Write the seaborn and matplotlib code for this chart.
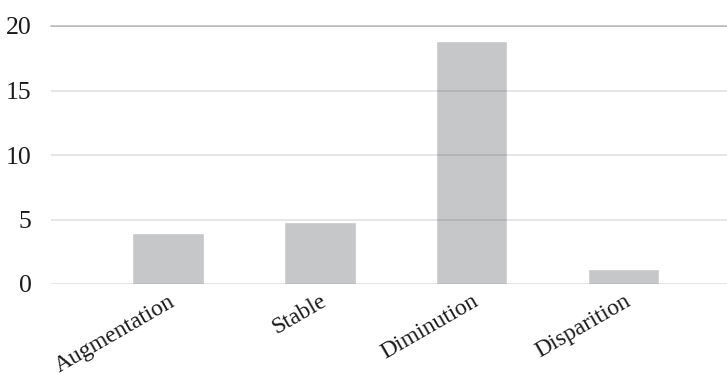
import pandas as pd
import matplotlib
matplotlib.use("Agg")
import matplotlib.pyplot as plt
import seaborn as sns

# données
categories = ["Augmentation", "Stable", "Diminution", "Disparition"]
valeurs = [3.95, 4.8, 18.85, 1.15]

df = pd.DataFrame({"categorie": categories, "valeur": valeurs})

sns.set_theme(style="white")
plt.rcParams["font.family"] = ["Liberation Serif", "DejaVu Serif"]

fig = plt.figure(figsize=(7.27, 3.79), dpi=100)
ax = fig.add_axes([51 / 727, 1 - 284 / 379, 676 / 727, 258 / 379])

sns.barplot(data=df, x="categorie", y="valeur", color="#c6c7c9",
            width=0.47, saturation=1, ax=ax)

ax.set_ylim(0, 20)
ax.set_xlim(-0.77, 3.68)
ax.set_yticks([0, 5, 10, 15, 20])
ax.set_xlabel("")
ax.set_ylabel("")

# grille par-dessus les barres, semi-transparente
ax.set_axisbelow(False)
ax.yaxis.grid(True, color="black", alpha=0.13, linewidth=1.1)
ax.xaxis.grid(False)

for s in ["left", "right", "bottom"]:
    ax.spines[s].set_visible(False)
ax.spines["top"].set_color("#bdbdbd")
ax.spines["top"].set_linewidth(1.1)

ax.tick_params(axis="y", length=0, pad=14, labelsize=18.5, colors="#1a1a1a")
ax.tick_params(axis="x", length=0, pad=5, labelsize=17, colors="#1a1a1a")
plt.setp(ax.get_xticklabels(), rotation=30, ha="right", rotation_mode="anchor")

fig.savefig("out.png", dpi=100)
